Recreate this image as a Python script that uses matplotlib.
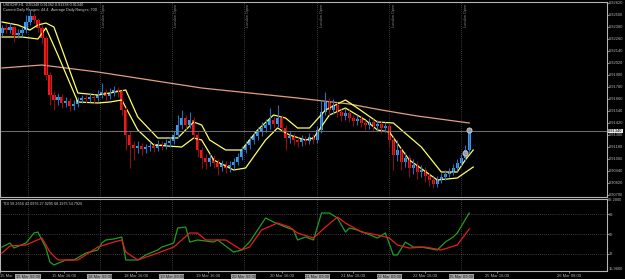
import matplotlib.pyplot as plt
import matplotlib.transforms as mtransforms
import numpy as np

plt.rcParams['font.family'] = ['Liberation Sans', 'DejaVu Sans']

# ---- price data (USDCHF, hourly bars) ----
first_open = 0.9232
closes = [
    0.9237, 0.9235, 0.9238, 0.9230, 0.9232, 0.9235, 0.9243, 0.9249, 0.9245, 0.9237,
    0.9227, 0.9190, 0.9170, 0.9165, 0.9168, 0.9162, 0.9164, 0.9159, 0.9161, 0.9165,
    0.9167, 0.9166, 0.9168, 0.9167, 0.9170, 0.9173, 0.9169, 0.9172, 0.9175, 0.9173,
    0.9155, 0.9130, 0.9120, 0.9117, 0.9119, 0.9116, 0.9118, 0.9119, 0.9117, 0.9121,
    0.9119, 0.9122, 0.9124, 0.9130, 0.9140, 0.9147, 0.9140, 0.9145, 0.9130, 0.9115,
    0.9107, 0.9103, 0.9107, 0.9102, 0.9098, 0.9101, 0.9097, 0.9100, 0.9103, 0.9108,
    0.9115, 0.9120, 0.9125, 0.9129, 0.9133, 0.9137, 0.9140, 0.9145, 0.9141, 0.9147,
    0.9137, 0.9127, 0.9129, 0.9125, 0.9123, 0.9126, 0.9124, 0.9128, 0.9125, 0.9135,
    0.9153, 0.9163, 0.9155, 0.9160, 0.9153, 0.9149, 0.9152, 0.9147, 0.9144, 0.9146,
    0.9142, 0.9140, 0.9143, 0.9139, 0.9141, 0.9137, 0.9139, 0.9125, 0.9110, 0.9115,
    0.9103, 0.9107, 0.9097, 0.9100, 0.9093, 0.9095, 0.9089, 0.9085, 0.9081, 0.9085,
    0.9088, 0.9091, 0.9093, 0.9097, 0.9102, 0.9107, 0.9115, 0.9134]
highs = [
    0.9240, 0.9241, 0.9242, 0.9240, 0.9236, 0.9238, 0.9250, 0.9255, 0.9252, 0.9247,
    0.9240, 0.9229, 0.9193, 0.9174, 0.9172, 0.9171, 0.9168, 0.9167, 0.9165, 0.9168,
    0.9170, 0.9170, 0.9172, 0.9171, 0.9175, 0.9182, 0.9176, 0.9177, 0.9179, 0.9178,
    0.9176, 0.9158, 0.9134, 0.9124, 0.9124, 0.9122, 0.9121, 0.9123, 0.9122, 0.9125,
    0.9124, 0.9126, 0.9128, 0.9134, 0.9150, 0.9155, 0.9150, 0.9153, 0.9148, 0.9133,
    0.9118, 0.9111, 0.9112, 0.9110, 0.9106, 0.9105, 0.9104, 0.9104, 0.9107, 0.9112,
    0.9119, 0.9124, 0.9129, 0.9134, 0.9138, 0.9143, 0.9146, 0.9157, 0.9149, 0.9160,
    0.9150, 0.9140, 0.9134, 0.9132, 0.9128, 0.9130, 0.9129, 0.9132, 0.9131, 0.9139,
    0.9165, 0.9173, 0.9167, 0.9166, 0.9163, 0.9156, 0.9157, 0.9155, 0.9150, 0.9150,
    0.9149, 0.9145, 0.9147, 0.9146, 0.9145, 0.9144, 0.9143, 0.9142, 0.9128, 0.9125,
    0.9118, 0.9113, 0.9110, 0.9106, 0.9104, 0.9100, 0.9098, 0.9092, 0.9088, 0.9089,
    0.9092, 0.9095, 0.9097, 0.9101, 0.9106, 0.9111, 0.9120, 0.9136]
lows = [
    0.9229, 0.9232, 0.9232, 0.9223, 0.9227, 0.9229, 0.9232, 0.9240, 0.9242, 0.9233,
    0.9222, 0.9185, 0.9160, 0.9155, 0.9160, 0.9157, 0.9158, 0.9154, 0.9155, 0.9158,
    0.9162, 0.9162, 0.9163, 0.9162, 0.9164, 0.9167, 0.9165, 0.9166, 0.9169, 0.9168,
    0.9150, 0.9115, 0.9097, 0.9105, 0.9112, 0.9110, 0.9112, 0.9114, 0.9113, 0.9114,
    0.9115, 0.9116, 0.9118, 0.9121, 0.9127, 0.9136, 0.9136, 0.9137, 0.9126, 0.9108,
    0.9097, 0.9096, 0.9099, 0.9097, 0.9090, 0.9094, 0.9092, 0.9093, 0.9096, 0.9100,
    0.9105, 0.9112, 0.9116, 0.9121, 0.9125, 0.9129, 0.9133, 0.9136, 0.9137, 0.9138,
    0.9133, 0.9115, 0.9122, 0.9120, 0.9118, 0.9119, 0.9120, 0.9121, 0.9121, 0.9122,
    0.9132, 0.9150, 0.9150, 0.9151, 0.9148, 0.9144, 0.9145, 0.9143, 0.9139, 0.9140,
    0.9138, 0.9135, 0.9136, 0.9134, 0.9135, 0.9132, 0.9133, 0.9118, 0.9095, 0.9104,
    0.9095, 0.9098, 0.9088, 0.9091, 0.9086, 0.9088, 0.9083, 0.9079, 0.9077, 0.9078,
    0.9082, 0.9085, 0.9088, 0.9090, 0.9094, 0.9099, 0.9104, 0.9112]

# long moving average (orange)
ma_idx = [0, 10, 24, 37, 50, 62, 74, 87, 95, 104, 117]
ma_val = [0.9197, 0.9200, 0.9193, 0.9185, 0.9177, 0.9172, 0.9167, 0.9161, 0.9155, 0.9149, 0.9142]

# yellow channel
upper_idx = [0, 4, 7, 9, 11, 13, 16, 19, 24, 27, 31, 34, 39, 44, 48, 50, 52, 56, 60, 64,
             68, 71, 74, 77, 81, 86, 89, 94, 98, 105, 110, 114, 116, 118]
upper_val = [0.9243, 0.9240, 0.9235, 0.9240, 0.9242, 0.9238, 0.9205, 0.9172, 0.9170, 0.9172,
             0.9175, 0.9148, 0.9127, 0.9127, 0.9143, 0.9140, 0.9125, 0.9115, 0.9115, 0.9135,
             0.9150, 0.9147, 0.9137, 0.9137, 0.9155, 0.9165, 0.9157, 0.9143, 0.9142, 0.9118,
             0.9093, 0.9093, 0.9105, 0.9115]
lower_idx = [0, 5, 9, 11, 14, 19, 24, 27, 30, 34, 38, 45, 48, 50, 53, 58, 61, 66, 69, 72,
             76, 78, 82, 86, 91, 94, 97, 102, 109, 114, 118]
lower_val = [0.9228, 0.9228, 0.9226, 0.9237, 0.9210, 0.9163, 0.9162, 0.9163, 0.9165, 0.9135,
             0.9120, 0.9118, 0.9127, 0.9125, 0.9105, 0.9095, 0.9097, 0.9125, 0.9137, 0.9130,
             0.9125, 0.9127, 0.9150, 0.9157, 0.9145, 0.9135, 0.9133, 0.9105, 0.9085, 0.9087,
             0.9098]

# TDI sub-window
green_idx = [0, 2, 3, 6, 8, 9, 11, 12, 13, 16, 18, 21, 24, 25, 26, 28, 30, 31, 34, 36,
             39, 40, 43, 44, 46, 47, 49, 53, 54, 58, 60, 62, 64, 66, 68, 71, 73, 74, 76, 78,
             80, 82, 84, 86, 87, 89, 91, 94, 96, 98, 99, 101, 103, 105, 109, 111, 113, 114, 117]
green_val = [38.0, 41.7, 37.1, 41.7, 50.9, 51.8, 37.1, 24.2, 21.5, 26.1,
             26.1, 32.5, 35.3, 41.7, 44.5, 45.4, 47.2, 26.1, 26.1, 30.7,
             35.3, 38.0, 41.7, 55.5, 56.4, 42.6, 44.5, 42.6, 44.5, 33.4,
             35.3, 42.6, 53.7, 64.7, 61.0, 56.4, 53.7, 44.5, 47.2, 44.5,
             69.3, 69.3, 64.7, 51.8, 55.5, 53.7, 50.9, 46.3, 50.9, 30.7,
             30.7, 42.6, 38.0, 38.0, 35.3, 42.6, 47.2, 50.9, 69.3]
red_idx = [0, 2, 6, 10, 12, 14, 19, 24, 28, 30, 31, 34, 39, 43, 47, 49, 51, 56, 60, 62,
           65, 69, 72, 74, 78, 81, 84, 86, 90, 94, 97, 99, 102, 106, 110, 114, 117]
red_val = [32.5, 39.0, 39.9, 46.3, 33.4, 26.1, 26.1, 38.0, 42.6, 44.5,
           33.4, 26.1, 32.5, 38.0, 50.9, 50.9, 44.5, 44.5, 35.3, 38.0,
           53.7, 60.1, 56.4, 50.9, 46.3, 56.4, 65.6, 60.1, 51.8, 49.1,
           46.3, 39.9, 37.1, 38.0, 35.3, 39.9, 54.6]
tdi_levels = [68, 50, 32]

# session markers and axis texts
session_idx = [6.5, 24.5, 42.5, 60.5, 79, 97, 115]
session_labels = ['15 Mar 09:00', '18 Mar 09:00', '19 Mar 09:00', '20 Mar 09:00',
                  '21 Mar 09:00', '22 Mar 09:00', '25 Mar 09:00']
time_idx = [-0.5, 15.5, 33.5, 51.5, 70, 88, 106, 124, 142]
time_labels = ['15 Mar', '15 Mar 16:00', '18 Mar 16:00', '19 Mar 16:00', '20 Mar 16:00',
               '21 Mar 16:00', '22 Mar 16:00', '25 Mar 16:00', '26 Mar 08:00']
price_ticks = [0.9262 - 0.0012 * k for k in range(17)]
marks_idx = [116, 117]
marks_val = [0.9112, 0.9135]

closes = np.array(closes)
opens = np.r_[first_open, closes[:-1]]
idx = np.arange(len(closes))
up = closes >= opens

W, H = 625, 279
fig = plt.figure(figsize=(W / 100, H / 100), dpi=100, facecolor='black')


def box(x0, y0, x1, y1):
    return [x0 / W, 1 - y1 / H, (x1 - x0) / W, (y1 - y0) / H]


ax = fig.add_axes(box(0, 2, 607, 197), facecolor='black')
ax2 = fig.add_axes(box(0, 199, 607, 271), facecolor='black', sharex=ax)
grey = '#b4b4b4'

for a in (ax, ax2):
    for s in a.spines.values():
        s.set_color(grey)
        s.set_linewidth(0.8)
    a.yaxis.tick_right()
    a.tick_params(colors=grey, labelsize=2.9, length=1.2, width=0.5, pad=0.4)
    for s in session_idx:
        a.axvline(s, color='#707070', lw=0.5, ls=(0, (1, 2)))

## MAIN PANEL ##########
ax.set_xlim(-0.5, 151.5)
ax.set_ylim(0.9068, 0.9263)
ax.set_yticks(price_ticks)
ax.set_yticklabels(['%.5f' % p for p in price_ticks])
ax.tick_params(axis='x', bottom=False, labelbottom=False)

ax.plot(ma_idx, ma_val, color='#e0a07c', lw=0.9)
ax.plot(upper_idx, upper_val, color='#ffff66', lw=0.9)
ax.plot(lower_idx, lower_val, color='#ffff66', lw=0.9)

ax.vlines(idx, lows, highs, colors=np.where(up, '#2a6db8', '#8a1010'), lw=0.8)
ax.bar(idx, closes - opens, bottom=opens, width=0.8,
       color=np.where(up, '#3d9bf0', '#f01a1a'), linewidth=0)

ax.axhline(closes[-1], color='#808080', lw=0.6)
ax.scatter(marks_idx, marks_val, s=14, c='#9a9a9a', edgecolors='#dddddd', linewidths=0.5, zorder=5)

tr = mtransforms.blended_transform_factory(ax.transAxes, ax.transData)
ax.text(1.002, closes[-1], '%.5f' % closes[-1], transform=tr, fontsize=2.9, color='black',
        va='center', ha='left', clip_on=False, zorder=10,
        bbox=dict(facecolor='#e8e8e8', edgecolor='none', pad=0.3))

for s in session_idx[1:]:
    ax.text(s + 0.6, 0.9261, 'London Open', rotation=90, fontsize=2.8, color='#8a8a8a',
            va='top', ha='left')

fig.text(3 / W, 1 - 3 / H, 'USDCHF,H1  0.91348 0.91362 0.91338 0.91340', fontsize=2.7,
         color='#d0d0d0', va='top')
fig.text(3 / W, 1 - 8.5 / H, 'Current Daily Ranges: 44.4   Average Daily Ranges: 700',
         fontsize=2.7, color='#d0d0d0', va='top')

## TDI PANEL ##########
ax2.set_ylim(15.96, 82.2)
ax2.set_yticks(tdi_levels)
ax2.set_yticklabels([str(v) for v in tdi_levels])
for lv in tdi_levels:
    ax2.axhline(lv, color='#707070', lw=0.5, ls=(0, (1, 2)))
ax2.plot(green_idx, green_val, color='#1f9e1f', lw=0.9)
ax2.plot(red_idx, red_val, color='#e81c1c', lw=0.9)
ax2.text(0.005, 0.96, 'TDI 58.2656 43.0976 27.9295 68.1975 54.7926', transform=ax2.transAxes,
         fontsize=2.7, color='#d0d0d0', va='top')
ax2.text(1.002, 0.985, '82.2000', transform=ax2.transAxes, fontsize=2.9, color=grey,
         va='center', ha='left')
ax2.text(1.002, 0.03, '15.9600', transform=ax2.transAxes, fontsize=2.9, color=grey,
         va='center', ha='left')

ax2.set_xticks(time_idx)
ax2.set_xticklabels(time_labels)
ax2.tick_params(axis='x', labelsize=3.0, length=1.5, pad=0.8)
ax2.get_xticklabels()[0].set_horizontalalignment('left')
tr2 = mtransforms.blended_transform_factory(ax2.transData, ax2.transAxes)
for s, lab in zip(session_idx, session_labels):
    ax2.text(s, -0.05, lab, transform=tr2, fontsize=3.0, color='#202020', ha='center',
             va='top', clip_on=False,
             bbox=dict(facecolor='#a0a0a0', edgecolor='none', pad=0.4))

fig.savefig('out.png', dpi=100, facecolor='black')
